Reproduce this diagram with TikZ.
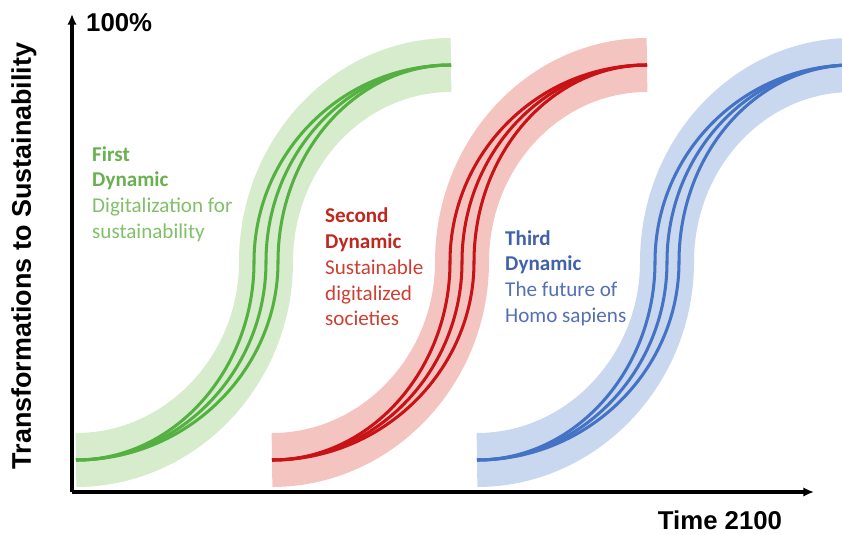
\documentclass[tikz,border=0pt]{standalone}
\usepackage{fontspec}
\setmainfont{Carlito}
\newfontfamily\arialfont{Liberation Sans}
\usetikzlibrary{arrows.meta}

\definecolor{greenband}{RGB}{214,236,205}
\definecolor{greenline}{RGB}{84,176,64}
\definecolor{greenhead}{RGB}{104,176,80}
\definecolor{greentext}{RGB}{128,192,104}
\definecolor{redband}{RGB}{244,196,193}
\definecolor{redline}{RGB}{200,18,22}
\definecolor{redhead}{RGB}{190,40,30}
\definecolor{redtext}{RGB}{204,64,52}
\definecolor{blueband}{RGB}{201,216,238}
\definecolor{blueline}{RGB}{68,114,196}
\definecolor{bluehead}{RGB}{66,98,168}
\definecolor{bluetext}{RGB}{84,112,180}

\tikzset{
  sshape/.style={insert path={(0,460) .. controls ({0.552*(190+#1)},460) and ({190+#1},370) .. ({190+#1},262)
      .. controls ({190+#1},153) and ({375-0.552*(185-#1)},65) .. (375,65)}},
  band/.style={line width=1.62cm},
  strand/.style={line width=2.6pt},
  axis/.style={line width=3pt, -{Latex[length=9pt,width=8pt]}},
  axislabel/.style={font=\arialfont\bfseries\fontsize{22}{26}\selectfont, inner sep=0pt},
  dyntext/.style={font=\fontsize{18}{22}\selectfont, align=left, anchor=west, inner sep=0pt}
}

\begin{document}
\begin{tikzpicture}[x=0.03cm, y=-0.03cm]
    \useasboundingbox (0,0) rectangle (842,535);

% first dynamic
\begin{scope}[shift={(76,0)}]
    \draw[band, greenband, sshape=0];
    \foreach \d in {-12,0,12} \draw[strand, greenline, sshape=\d];
\end{scope}
% second dynamic
\begin{scope}[shift={(272,0)}]
    \draw[band, redband, sshape=0];
    \foreach \d in {-12,0,12} \draw[strand, redline, sshape=\d];
\end{scope}
% third dynamic
\begin{scope}[shift={(477,0)}]
    \draw[band, blueband, sshape=0];
    \foreach \d in {-12,0,12} \draw[strand, blueline, sshape=\d];
\end{scope}

    \coordinate (origin) at (72,492);
    \coordinate (ytip) at (72,14);
    \coordinate (xtip) at (814,492);
    \draw[axis] (origin) -- (ytip);
    \draw[axis] (origin) -- (xtip);

    \node[axislabel, anchor=west] (full) at (86,23) {100\%};
    \node[axislabel, rotate=90, font=\arialfont\bfseries\fontsize{23}{27}\selectfont] (ylabel) at (24,256) {Transformations to Sustainability};
    \node[axislabel] (xlabel) at (720,520) {Time 2100};

    \node[dyntext, text=greentext] (first) at (92,194)
        {\textcolor{greenhead}{\textbf{First}}\\\textcolor{greenhead}{\textbf{Dynamic}}\\Digitalization for\\sustainability};
    \node[dyntext, text=redtext] (second) at (325,267)
        {\textcolor{redhead}{\textbf{Second}}\\\textcolor{redhead}{\textbf{Dynamic}}\\Sustainable\\digitalized\\societies};
    \node[dyntext, text=bluetext] (third) at (505,278)
        {\textcolor{bluehead}{\textbf{Third}}\\\textcolor{bluehead}{\textbf{Dynamic}}\\The future of\\Homo sapiens};

\end{tikzpicture}
\end{document}
